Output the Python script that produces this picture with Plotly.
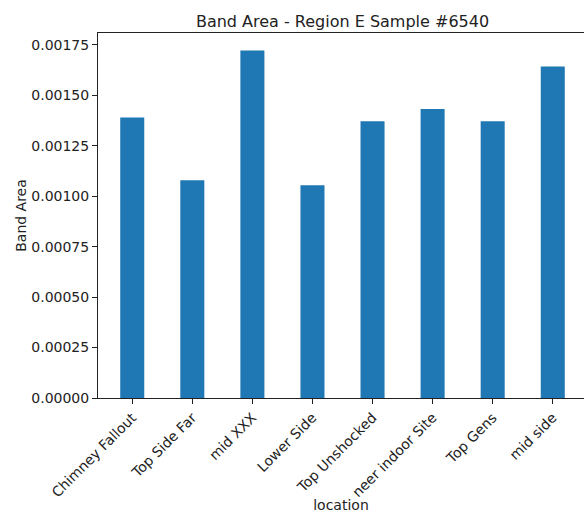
import plotly.graph_objects as go

# Band area per sampling location
locations = [
    "Chimney Fallout",
    "Top Side Far",
    "mid XXX",
    "Lower Side",
    "Top Unshocked",
    "neer indoor Site",
    "Top Gens",
    "mid side",
]
band_area = [0.001390, 0.001079, 0.001722, 0.001054, 0.001372, 0.001433, 0.001372, 0.001643]

y_ticks = [0.0, 0.00025, 0.0005, 0.00075, 0.001, 0.00125, 0.0015, 0.00175]

FONT = "DejaVu Sans"
INK = "#222222"

fig = go.Figure(
    go.Bar(
        x=locations,
        y=band_area,
        width=0.4,
        marker=dict(color="#1f77b4", line=dict(width=0)),
    )
)

fig.update_layout(
    width=584,
    height=513,
    margin=dict(l=98, r=0, t=33, b=115),
    paper_bgcolor="white",
    plot_bgcolor="white",
    showlegend=False,
    font=dict(family=FONT, size=14, color=INK),
    title=dict(
        text="Band Area - Region E Sample #6540",
        font=dict(family=FONT, size=16, color=INK),
        x=342.5 / 584,
        xref="container",
        xanchor="center",
        y=1 - 21 / 513,
        yref="container",
        yanchor="middle",
    ),
)

fig.update_xaxes(
    type="category",
    range=[-0.57, 7.52],
    automargin=False,
    showline=True,
    linecolor=INK,
    linewidth=1,
    mirror=True,
    ticks="outside",
    ticklen=5,
    tickwidth=1,
    tickcolor=INK,
    tickangle=-45,
    tickfont=dict(family=FONT, size=14, color=INK),
    showgrid=False,
    zeroline=False,
    title=dict(text="location", font=dict(family=FONT, size=14, color=INK), standoff=7),
)

fig.update_yaxes(
    range=[0, 0.0018093],
    automargin=False,
    tickvals=y_ticks,
    tickformat=".5f",
    showline=True,
    linecolor=INK,
    linewidth=1,
    mirror=False,
    ticks="outside",
    ticklen=5,
    tickwidth=1,
    tickcolor=INK,
    tickfont=dict(family=FONT, size=14, color=INK),
    showgrid=False,
    zeroline=False,
    title=dict(text="Band Area", font=dict(family=FONT, size=14, color=INK), standoff=1),
)

fig.write_html("out.html")
